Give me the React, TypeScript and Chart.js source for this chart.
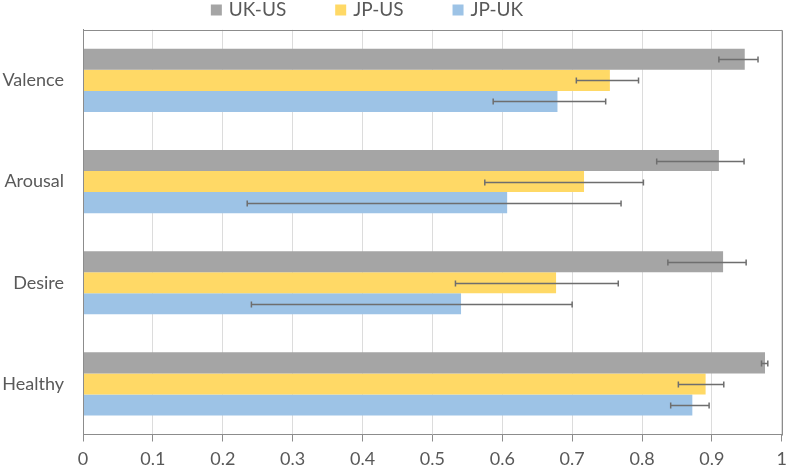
import React, { useEffect, useRef } from 'react';
import { Chart, registerables } from 'chart.js';

Chart.register(...registerables);

const categories = ['Valence', 'Arousal', 'Desire', 'Healthy'];
const seriesNames = ['UK-US', 'JP-US', 'JP-UK'];
const seriesColors = ['#A5A5A5', '#FFD966', '#9DC3E6'];

const ukUs = [0.947, 0.91, 0.916, 0.976];
const jpUs = [0.754, 0.717, 0.677, 0.891];
const jpUk = [0.679, 0.607, 0.541, 0.872];

const ukUsLow = [0.91, 0.821, 0.837, 0.971];
const ukUsHigh = [0.966, 0.946, 0.949, 0.98];
const jpUsLow = [0.706, 0.575, 0.533, 0.852];
const jpUsHigh = [0.795, 0.802, 0.766, 0.917];
const jpUkLow = [0.587, 0.235, 0.241, 0.841];
const jpUkHigh = [0.748, 0.77, 0.7, 0.896];

const xTickValues = [0, 0.1, 0.2, 0.3, 0.4, 0.5, 0.6, 0.7, 0.8, 0.9, 1];
const xTickLabels = ['0', '0.1', '0.2', '0.3', '0.4', '0.5', '0.6', '0.7', '0.8', '0.9', '1'];

const seriesValues = [ukUs, jpUs, jpUk];
const seriesLow = [ukUsLow, jpUsLow, jpUkLow];
const seriesHigh = [ukUsHigh, jpUsHigh, jpUkHigh];

const FONT = 'Lato, "Open Sans", sans-serif';
const TEXT_COLOR = '#595959';
const AXIS_COLOR = '#8C8C8C';

const errorBarPlugin = {
  id: 'errorBars',
  afterDatasetsDraw(chart: any) {
    const ctx = chart.ctx;
    const xs = chart.scales.x;
    ctx.save();
    ctx.strokeStyle = '#6E6E6E';
    ctx.lineWidth = 1.5;
    chart.data.datasets.forEach((_ds: any, i: number) => {
      const meta = chart.getDatasetMeta(i);
      meta.data.forEach((bar: any, j: number) => {
        const lo = xs.getPixelForValue(seriesLow[i][j]);
        const hi = xs.getPixelForValue(seriesHigh[i][j]);
        const y = Math.round(bar.y) + 0.5;
        ctx.beginPath();
        ctx.moveTo(lo, y);
        ctx.lineTo(hi, y);
        ctx.moveTo(lo, y - 3);
        ctx.lineTo(lo, y + 3);
        ctx.moveTo(hi, y - 3);
        ctx.lineTo(hi, y + 3);
        ctx.stroke();
      });
    });
    ctx.restore();
  },
};

const framePlugin = {
  id: 'frame',
  afterDraw(chart: any) {
    const { left, right, top, bottom } = chart.chartArea;
    const ctx = chart.ctx;
    ctx.save();
    ctx.strokeStyle = AXIS_COLOR;
    ctx.lineWidth = 1;
    ctx.beginPath();
    ctx.moveTo(Math.round(left) + 0.5, Math.round(bottom) + 0.5);
    ctx.lineTo(Math.round(left) + 0.5, Math.round(top) + 0.5);
    ctx.lineTo(Math.round(right) + 0.5, Math.round(top) + 0.5);
    ctx.lineTo(Math.round(right) + 0.5, Math.round(bottom) + 0.5);
    ctx.stroke();
    ctx.restore();
  },
};

const legendPlugin = {
  id: 'customLegend',
  afterDraw(chart: any) {
    const ctx = chart.ctx;
    ctx.save();
    ctx.font = `19px ${FONT}`;
    ctx.textBaseline = 'middle';
    ctx.textAlign = 'left';
    const box = 11;
    const textGap = 7;
    const itemGap = 49;
    const labels = chart.data.datasets.map((d: any) => d.label);
    const widths = labels.map((l: string) => ctx.measureText(l).width);
    const total =
      widths.reduce((a: number, w: number) => a + box + textGap + w, 0) + itemGap * (labels.length - 1);
    let x = 367 - total / 2;
    const cy = 10;
    labels.forEach((l: string, i: number) => {
      ctx.fillStyle = chart.data.datasets[i].backgroundColor;
      ctx.fillRect(x, cy - box / 2, box, box);
      ctx.fillStyle = TEXT_COLOR;
      ctx.fillText(l, x + box + textGap, cy);
      x += box + textGap + widths[i] + itemGap;
    });
    ctx.restore();
  },
};

export default function App() {
  const canvasRef = useRef<HTMLCanvasElement | null>(null);

  useEffect(() => {
    document.body.style.margin = '0';
    const canvas = canvasRef.current;
    if (!canvas) return;
    const chart = new Chart(canvas, {
      type: 'bar',
      data: {
        labels: categories,
        datasets: seriesNames.map((name, i) => ({
          label: name,
          data: seriesValues[i],
          backgroundColor: seriesColors[i],
          borderWidth: 0,
          categoryPercentage: 0.624,
          barPercentage: 1,
        })),
      },
      options: {
        indexAxis: 'y',
        responsive: false,
        animation: false,
        maintainAspectRatio: false,
        layout: { padding: { top: 28, right: 5, left: 0, bottom: 0 } },
        plugins: {
          legend: { display: false },
          tooltip: { enabled: false },
        },
        scales: {
          x: {
            min: 0,
            max: 1,
            afterBuildTicks: (s: any) => {
              s.ticks = xTickValues.map((v) => ({ value: v }));
            },
            afterFit: (s: any) => {
              s.height = 32.5;
            },
            ticks: {
              callback: (_v: any, i: number) => xTickLabels[i],
              font: { family: FONT, size: 18 },
              color: TEXT_COLOR,
              padding: 7,
              maxRotation: 0,
            },
            grid: {
              color: '#DCDCDC',
              lineWidth: 1,
              drawTicks: true,
              tickLength: 7,
              tickColor: AXIS_COLOR,
            },
            border: { display: true, color: AXIS_COLOR, width: 1 },
          },
          y: {
            afterFit: (s: any) => {
              s.width = 83;
            },
            ticks: {
              font: { family: FONT, size: 18 },
              color: TEXT_COLOR,
              padding: 19,
            },
            grid: { display: false, drawTicks: false },
            border: { display: true, color: AXIS_COLOR, width: 1 },
          },
        },
      },
      plugins: [errorBarPlugin, framePlugin, legendPlugin],
    } as any);
    return () => chart.destroy();
  }, []);

  return (
    <div style={{ width: 794, height: 467 }}>
      <canvas ref={canvasRef} width={794} height={467} style={{ display: 'block' }} />
    </div>
  );
}
